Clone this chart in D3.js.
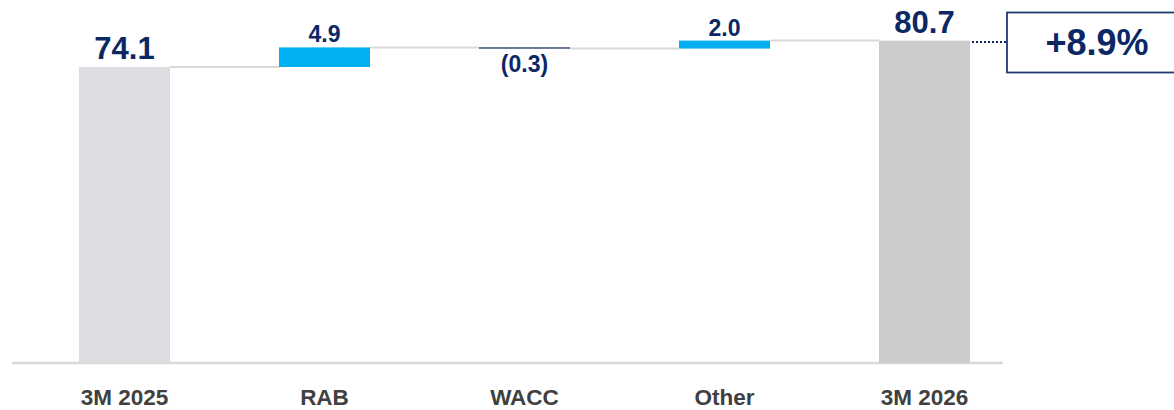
<!DOCTYPE html>
<html>
<head>
<meta charset="utf-8">
<script src="https://cdn.jsdelivr.net/npm/d3@7"></script>
<style>
  html, body { margin: 0; padding: 0; background: #fff; }
  svg { display: block; font-family: "Liberation Sans", Arial, sans-serif; }
</style>
</head>
<body>
<svg id="chart" width="1174" height="410"></svg>
<script>
// Waterfall: 3M 2025 -> 3M 2026 bridge
const categories = ["3M 2025", "RAB", "WACC", "Other", "3M 2026"];
const values = [74.1, 4.9, -0.3, 2.0, 80.7];
const kinds = ["total", "delta", "delta", "delta", "total"];
const valueLabels = ["74.1", "4.9", "(0.3)", "2.0", "80.7"];
const changeLabel = "+8.9%";

const navy = "#0b2865";
const svg = d3.select("#chart");

const x = d3.scaleBand()
  .domain(categories)
  .range([24.5, 1024.5])
  .paddingInner(0.545)
  .paddingOuter(0.2725);

const y = d3.scaleLinear().domain([0, 85]).range([363, 363 - 85 * 3.995]);

// running start/end for each step
let run = 0;
const bars = categories.map((c, i) => {
  let start, end;
  if (kinds[i] === "total") { start = 0; end = values[i]; run = values[i]; }
  else { start = run; end = run + values[i]; run = end; }
  return { cat: c, start, end, kind: kinds[i], value: values[i], label: valueLabels[i], i };
});

function fillFor(b) {
  if (b.kind === "total") return b.i === 0 ? "#dcdde0" : "#cccccc";
  return b.value >= 0 ? "#00b0f0" : "#0a2459";
}

// connectors between bars
const conn = svg.append("g");
for (let i = 0; i < bars.length - 1; i++) {
  const level = bars[i].end;
  conn.append("line")
    .attr("x1", x(bars[i].cat) + x.bandwidth())
    .attr("x2", x(bars[i + 1].cat))
    .attr("y1", y(level)).attr("y2", y(level))
    .attr("stroke", "#d9d9d9").attr("stroke-width", 2);
}

// baseline
svg.append("line")
  .attr("x1", 12).attr("x2", 1003)
  .attr("y1", y(0)).attr("y2", y(0))
  .attr("stroke", "#d9d9d9").attr("stroke-width", 2.5);

// bars
svg.append("g").selectAll("rect").data(bars).join("rect")
  .attr("x", d => x(d.cat))
  .attr("width", x.bandwidth())
  .attr("y", d => y(Math.max(d.start, d.end)))
  .attr("height", d => Math.abs(y(d.start) - y(d.end)))
  .attr("fill", fillFor);

// value labels
svg.append("g").selectAll("text").data(bars).join("text")
  .attr("x", d => x(d.cat) + x.bandwidth() / 2)
  .attr("y", d => {
    const top = y(Math.max(d.start, d.end));
    const bot = y(Math.min(d.start, d.end));
    if (d.kind === "total") return top - 8;
    return d.value >= 0 ? top - 5 : bot + 23;
  })
  .attr("text-anchor", "middle")
  .attr("font-weight", "bold")
  .attr("font-size", d => d.kind === "total" ? 31 : 23)
  .attr("fill", navy)
  .text(d => d.label);

// category labels
svg.append("g").selectAll("text").data(categories).join("text")
  .attr("x", d => x(d) + x.bandwidth() / 2)
  .attr("y", 405)
  .attr("text-anchor", "middle")
  .attr("font-weight", "bold")
  .attr("font-size", 22.5)
  .attr("fill", "#404040")
  .text(d => d);

// growth callout
const last = bars[bars.length - 1];
svg.append("line")
  .attr("x1", x(last.cat) + x.bandwidth() + 2)
  .attr("x2", 1006)
  .attr("y1", y(last.end) + 1.5).attr("y2", y(last.end) + 1.5)
  .attr("stroke", navy).attr("stroke-width", 2)
  .attr("stroke-dasharray", "2,2");

svg.append("rect")
  .attr("x", 1007).attr("y", 12.5)
  .attr("width", 180).attr("height", 60)
  .attr("fill", "#fff")
  .attr("stroke", "#1f3a70").attr("stroke-width", 1.8);

svg.append("text")
  .attr("x", 1097).attr("y", 55)
  .attr("text-anchor", "middle")
  .attr("font-weight", "bold")
  .attr("font-size", 36)
  .attr("fill", navy)
  .text(changeLabel);
</script>
</body>
</html>
